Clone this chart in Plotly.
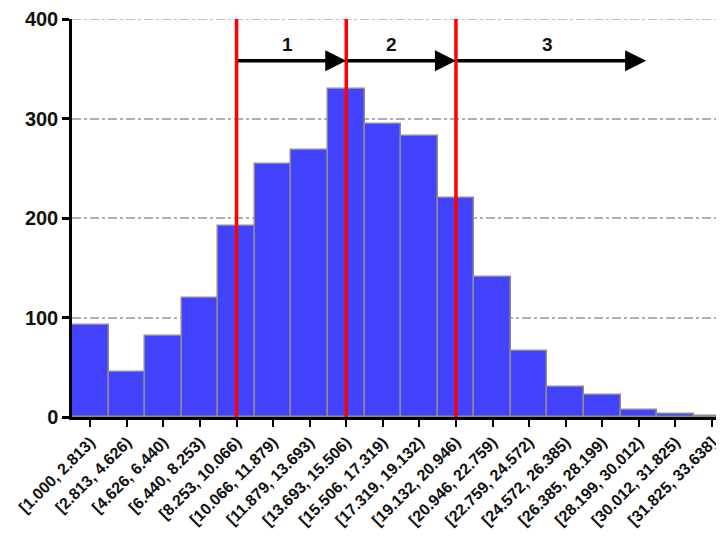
import plotly.graph_objects as go

bin_labels = ["[1.000, 2.813)", "[2.813, 4.626)", "[4.626, 6.440)", "[6.440, 8.253)",
              "[8.253, 10.066)", "[10.066, 11.879)", "[11.879, 13.693)", "[13.693, 15.506)",
              "[15.506, 17.319)", "[17.319, 19.132)", "[19.132, 20.946)", "[20.946, 22.759)",
              "[22.759, 24.572)", "[24.572, 26.385)", "[26.385, 28.199)", "[28.199, 30.012)",
              "[30.012, 31.825)", "[31.825, 33.638]"]
counts = [92, 45, 81, 120, 192, 254, 268, 330, 294, 282, 220, 141, 66, 30, 22, 7, 3, 1]

cut_bins = [4, 7, 10]               # bins where the red cut lines are drawn
stage_labels = ["1", "2", "3"]
stage_starts = [4, 7, 10]
stage_ends = [7, 10, 15.2]
arrow_level = 358
label_level = 374
label_pos = [5.4, 8.25, 12.5]

y_ticks = [0, 100, 200, 300, 400]

idx = list(range(len(counts)))

fig = go.Figure()
fig.add_trace(go.Bar(
    x=idx, y=counts, width=1,
    marker=dict(color="#4343FF", line=dict(color="#8C8C8C", width=1.5)),
    showlegend=False, hoverinfo="skip"))

# top gridline (plotly skips the grid line at the range edge)
fig.add_shape(type="line", xref="paper", yref="y", x0=0, x1=1, y0=y_ticks[-1], y1=y_ticks[-1],
              line=dict(color="#B0B0B0", width=1.5, dash="dashdot"), layer="above")

for c in cut_bins:
    fig.add_shape(type="line", xref="x", yref="y", x0=c, x1=c, y0=0, y1=400,
                  line=dict(color="#FF0000", width=3.5), layer="above")

for s, e in zip(stage_starts, stage_ends):
    fig.add_annotation(x=e, y=arrow_level, ax=s, ay=arrow_level, xref="x", yref="y",
                       axref="x", ayref="y", showarrow=True, arrowhead=2,
                       arrowsize=1.2, arrowwidth=3.5, arrowcolor="black", text="")

for t, p in zip(stage_labels, label_pos):
    fig.add_annotation(x=p, y=label_level, xref="x", yref="y", text="<b>" + t + "</b>",
                       showarrow=False, font=dict(size=19, color="#111", family="Arial, Liberation Sans"))

fig.update_layout(
    width=724, height=540,
    margin=dict(l=64, r=8, t=11, b=131),
    plot_bgcolor="white", paper_bgcolor="white",
    bargap=0,
    font=dict(family="Arial, Liberation Sans", color="#111"),
)
fig.update_xaxes(
    range=[-0.5, 17.33], tickmode="array", tickvals=idx,
    ticktext=["<b>" + l + "</b>" for l in bin_labels],
    tickangle=-45, tickfont=dict(size=16, color="#111"),
    ticks="outside", ticklen=7, tickwidth=2, tickcolor="black",
    showline=True, linecolor="black", linewidth=2.5,
    showgrid=False, zeroline=False, automargin=False, layer="above traces",
)
fig.update_yaxes(
    range=[0, 400], tickmode="array", tickvals=y_ticks,
    ticktext=["<b>%d</b>" % v for v in y_ticks],
    tickfont=dict(size=20, color="#111"),
    ticks="outside", ticklen=7, tickwidth=2.5, tickcolor="black",
    showline=True, linecolor="black", linewidth=2.5,
    showgrid=True, gridcolor="#B0B0B0", gridwidth=1.5, griddash="dashdot",
    zeroline=False, automargin=False, layer="above traces",
)

fig.write_html("out.html")
